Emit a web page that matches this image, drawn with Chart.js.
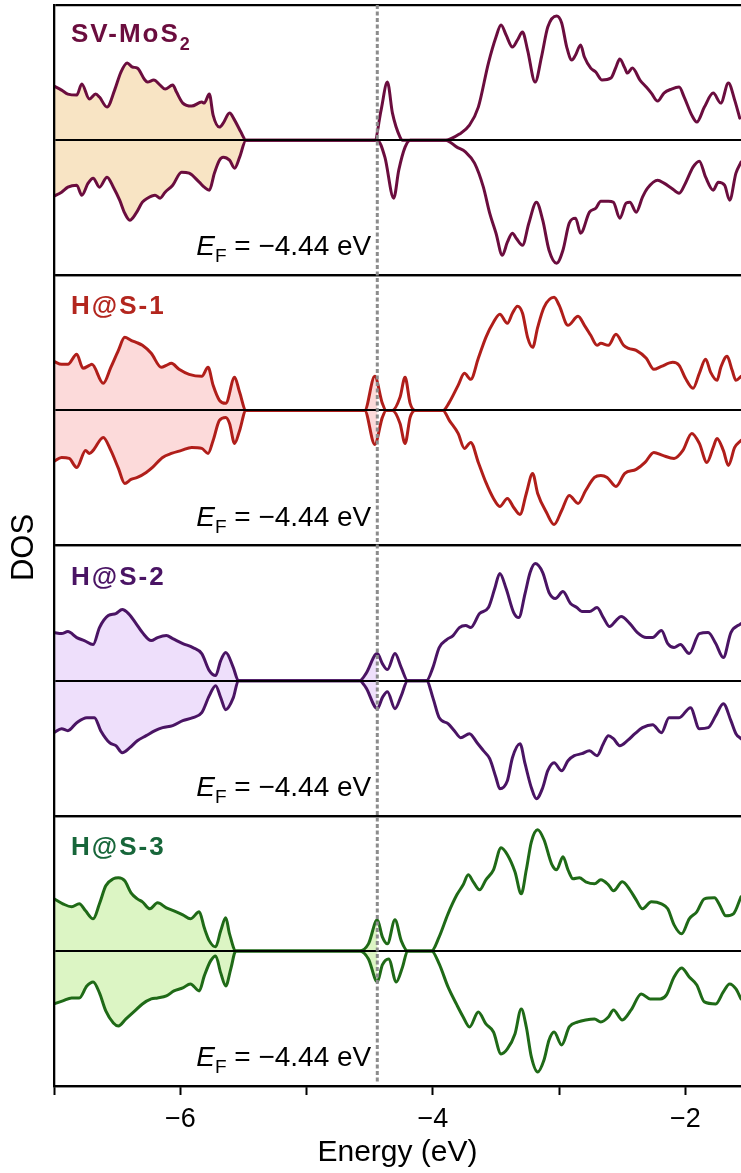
<!DOCTYPE html>
<html>
<head>
<meta charset="utf-8">
<title>DOS</title>
<script src="https://cdn.jsdelivr.net/npm/chart.js@4.4.1/dist/chart.umd.min.js"></script>
<style>
    html, body { margin: 0; padding: 0; background: #fff; overflow: hidden; }
    canvas { display: block; }
</style>
</head>
<body>
<canvas id="dos-chart" width="741" height="1173"></canvas>
<script>

// Fermi level (eV)
const EF = -4.44;

// energy axis
const xMin = -7.0;
const xMax = -1.56;
const xTicks = [-7, -6, -5, -4, -3, -2];

// each panel runs from -dosLim to +dosLim
const dosLim = 13.5;

const panelNames = ['SV-MoS', 'H@S-1', 'H@S-2', 'H@S-3'];
const panelSubs = ['2', '', '', ''];
const lineColors = ['#6b0d3e', '#b01e1a', '#4a1464', '#1f6a17'];
const fillColors = ['#f8e4c4', '#fcdada', '#eedffb', '#dcf5c4'];
const nameColors = ['#6b0d3e', '#b3261e', '#4a1464', '#17663a'];

// SV-MoS2
const svUpE = [
    -7.00,-6.94,-6.89,-6.82,-6.78,-6.72,-6.67,-6.64,-6.58,-6.52,-6.47,-6.42,-6.38,-6.34,-6.28,-6.26,-6.21,-6.16,-6.12,-6.06,-6.03,-5.98,-5.91,-5.83,-5.81,-5.77,-5.74,-5.69,-5.66,-5.61,-5.57,-5.52,-5.48,
    -4.46,-4.41,-4.36,-4.32,-4.26,-4.24,
    -3.90,-3.79,-3.71,-3.64,-3.56,-3.50,-3.46,-3.42,-3.37,-3.33,-3.29,-3.25,-3.19,-3.14,-3.09,-3.02,-2.98,-2.94,-2.90,-2.87,-2.83,-2.80,-2.75,-2.71,-2.66,-2.59,-2.55,-2.52,-2.48,-2.46,-2.42,-2.36,-2.31,-2.27,-2.22,-2.17,-2.11,-2.05,-2.01,-1.95,-1.91,-1.85,-1.78,-1.72,-1.66,-1.61,-1.57
];
const svUp = [
    5.4,5.0,4.6,4.5,5.6,4.1,4.6,4.3,3.3,5.0,6.8,7.7,7.3,7.2,6.0,5.8,6.0,5.5,5.1,5.5,4.8,3.7,3.4,3.8,3.7,4.6,2.5,1.3,1.7,2.7,2.0,0.8,0,
    0,3.0,5.8,2.7,0.3,0,
    0,0.6,1.5,3.3,7.7,10.3,11.5,10.5,9.3,10.0,10.8,9.0,5.8,8.3,11.3,12.4,11.7,9.3,8.0,8.5,9.5,8.3,7.2,6.8,6.0,6.2,7.3,8.1,7.2,6.7,7.2,6.0,5.3,4.7,3.9,4.7,5.1,5.3,4.3,2.5,1.8,3.3,4.7,3.7,5.7,4.0,2.2
];
const svDnE = [
    -7.00,-6.94,-6.89,-6.82,-6.78,-6.73,-6.69,-6.64,-6.58,-6.53,-6.48,-6.44,-6.40,-6.35,-6.30,-6.26,-6.20,-6.16,-6.12,-6.06,-5.99,-5.93,-5.85,-5.81,-5.77,-5.73,-5.69,-5.66,-5.61,-5.57,-5.53,-5.48,
    -4.44,-4.38,-4.31,-4.27,-4.22,-4.18,
    -3.90,-3.81,-3.74,-3.67,-3.60,-3.55,-3.50,-3.45,-3.41,-3.37,-3.34,-3.29,-3.24,-3.18,-3.13,-3.08,-3.02,-2.97,-2.92,-2.87,-2.83,-2.76,-2.71,-2.67,-2.61,-2.57,-2.52,-2.47,-2.44,-2.39,-2.34,-2.30,-2.22,-2.17,-2.11,-2.05,-2.00,-1.94,-1.89,-1.84,-1.78,-1.74,-1.69,-1.65,-1.60,-1.56
];
const svDn = [
    -5.6,-5.2,-4.7,-4.5,-5.5,-4.3,-3.8,-4.7,-3.7,-4.7,-6.0,-7.3,-8.0,-7.3,-6.2,-5.8,-5.5,-5.8,-5.2,-4.5,-3.2,-3.3,-4.2,-4.7,-5.0,-3.3,-2.0,-1.7,-2.0,-2.8,-1.7,0,
    0,-1.7,-5.8,-3.0,-0.7,0,
    0,-0.7,-1.2,-2.3,-4.7,-7.3,-9.3,-11.5,-10.2,-9.3,-9.8,-10.5,-8.3,-6.2,-8.0,-11.0,-12.3,-11.0,-8.3,-7.8,-9.3,-7.2,-6.8,-6.1,-6.1,-6.2,-7.8,-6.3,-6.2,-7.2,-5.7,-4.8,-4.0,-4.3,-4.8,-5.3,-4.3,-2.7,-2.1,-3.7,-5.0,-4.2,-4.5,-6.0,-3.3,-2.2
];

// H@S-1
const h1UpE = [
    -7.00,-6.94,-6.89,-6.82,-6.77,-6.72,-6.70,-6.61,-6.55,-6.49,-6.44,-6.39,-6.35,-6.30,-6.23,-6.15,-6.11,-6.07,-6.01,-5.93,-5.83,-5.78,-5.74,-5.69,-5.64,-5.57,-5.53,-5.48,
    -4.54,-4.46,-4.40,-4.37,-4.32,-4.26,-4.22,-4.18,-4.14,
    -3.92,-3.87,-3.80,-3.75,-3.70,-3.64,-3.58,-3.52,-3.47,-3.41,-3.37,-3.33,-3.29,-3.25,-3.21,-3.17,-3.12,-3.04,-3.00,-2.93,-2.85,-2.80,-2.75,-2.70,-2.67,-2.61,-2.55,-2.49,-2.45,-2.39,-2.31,-2.25,-2.19,-2.10,-2.05,-2.00,-1.94,-1.89,-1.84,-1.80,-1.75,-1.72,-1.67,-1.63,-1.60,-1.56
];
const h1Up = [
    4.9,4.6,4.6,5.6,4.2,4.5,4.6,2.7,4.3,6.0,7.3,7.0,6.8,6.5,5.7,4.3,4.5,4.7,4.1,3.6,3.4,4.3,2.5,1.0,0.7,3.3,1.8,0,
    0,3.4,0.7,0,0,1.3,3.3,0.7,0,
    0,0.8,2.5,3.7,3.1,5.2,7.3,8.8,9.6,8.7,9.7,10.4,9.7,7.3,6.3,8.3,10.3,11.3,10.5,8.5,9.4,8.5,7.5,6.5,6.7,6.5,7.6,6.5,6.2,6.0,5.2,4.1,4.4,4.8,4.5,3.2,2.2,3.7,5.1,3.8,3.0,4.3,5.4,4.0,3.0,3.4
];
const h1DnE = [
    -7.00,-6.94,-6.88,-6.82,-6.75,-6.72,-6.69,-6.61,-6.55,-6.49,-6.44,-6.39,-6.34,-6.27,-6.22,-6.14,-6.07,-5.99,-5.91,-5.83,-5.78,-5.74,-5.69,-5.64,-5.61,-5.57,-5.53,-5.48,
    -4.54,-4.46,-4.40,-4.37,-4.32,-4.26,-4.22,-4.18,-4.14,
    -3.92,-3.87,-3.80,-3.75,-3.70,-3.64,-3.58,-3.52,-3.47,-3.41,-3.36,-3.31,-3.26,-3.21,-3.17,-3.10,-3.04,-2.98,-2.92,-2.85,-2.79,-2.72,-2.67,-2.62,-2.55,-2.48,-2.39,-2.32,-2.25,-2.18,-2.09,-2.02,-1.95,-1.89,-1.83,-1.78,-1.75,-1.70,-1.66,-1.61,-1.56
];
const h1Dn = [
    -5.1,-4.7,-4.8,-5.7,-4.0,-4.3,-4.0,-2.7,-4.0,-5.8,-7.3,-6.9,-6.7,-6.2,-5.7,-4.7,-4.3,-4.0,-3.7,-3.8,-4.3,-3.0,-1.0,-0.7,-1.3,-3.3,-2.0,0,
    0,-3.4,-0.7,0,0,-1.3,-3.3,-0.7,0,
    0,-1.0,-2.3,-3.8,-3.2,-5.2,-7.2,-8.8,-9.6,-8.8,-9.7,-10.4,-8.3,-6.3,-8.3,-10.2,-11.4,-10.0,-8.5,-9.3,-8.0,-6.7,-6.5,-6.7,-7.6,-6.3,-5.9,-5.2,-4.2,-4.5,-4.8,-4.0,-2.3,-3.3,-5.2,-3.7,-2.8,-4.0,-5.5,-3.7,-3.0
];

// H@S-2
const h2UpE = [
    -7.00,-6.94,-6.89,-6.82,-6.76,-6.69,-6.64,-6.57,-6.51,-6.46,-6.41,-6.35,-6.30,-6.23,-6.18,-6.11,-6.06,-5.98,-5.90,-5.83,-5.77,-5.72,-5.68,-5.64,-5.58,-5.54,
    -4.58,-4.53,-4.44,-4.40,-4.36,-4.30,-4.25,-4.20,
    -4.05,-4.00,-3.95,-3.89,-3.84,-3.79,-3.74,-3.70,-3.63,-3.56,-3.51,-3.47,-3.42,-3.36,-3.32,-3.27,-3.23,-3.19,-3.13,-3.08,-3.03,-2.97,-2.91,-2.86,-2.82,-2.76,-2.70,-2.65,-2.60,-2.55,-2.51,-2.44,-2.38,-2.31,-2.26,-2.19,-2.14,-2.09,-2.04,-1.97,-1.89,-1.82,-1.76,-1.70,-1.64,-1.56
];
const h2Up = [
    4.8,4.7,4.9,4.3,4.0,3.6,5.3,6.5,6.7,7.1,6.7,5.7,4.8,4.0,4.3,4.5,4.2,3.7,3.3,2.7,1.0,0.5,2.0,2.8,1.3,0,
    0,0.7,2.7,1.7,1.1,2.7,1.3,0,
    0,1.3,3.3,4.1,4.5,5.3,5.5,5.3,6.7,7.3,9.2,10.7,9.2,6.8,6.3,8.7,10.8,11.7,10.8,8.8,8.2,8.9,7.7,7.3,6.9,6.9,7.3,6.3,5.4,6.0,6.4,5.7,4.8,4.3,4.3,5.0,3.7,3.3,3.6,2.7,4.7,4.8,3.7,2.3,4.8,5.7
];
const h2DnE = [
    -7.00,-6.94,-6.89,-6.82,-6.74,-6.68,-6.63,-6.56,-6.51,-6.46,-6.40,-6.34,-6.27,-6.20,-6.14,-6.06,-5.98,-5.90,-5.83,-5.77,-5.72,-5.68,-5.64,-5.58,-5.54,
    -4.58,-4.53,-4.44,-4.40,-4.36,-4.30,-4.25,-4.20,
    -4.05,-4.00,-3.95,-3.88,-3.83,-3.78,-3.71,-3.65,-3.60,-3.55,-3.50,-3.47,-3.41,-3.37,-3.31,-3.27,-3.22,-3.18,-3.13,-3.09,-3.04,-2.98,-2.93,-2.88,-2.82,-2.76,-2.70,-2.65,-2.61,-2.57,-2.52,-2.46,-2.40,-2.34,-2.26,-2.19,-2.13,-2.05,-1.96,-1.89,-1.82,-1.76,-1.70,-1.64,-1.60,-1.56
];
const h2Dn = [
    -5.2,-4.8,-5.0,-4.2,-3.7,-3.7,-5.0,-6.2,-6.5,-7.2,-6.7,-6.0,-5.5,-5.0,-4.7,-4.5,-4.0,-3.7,-3.2,-1.5,-0.5,-1.7,-2.9,-1.7,0,
    0,-0.7,-2.8,-1.7,-1.1,-2.8,-1.5,0,
    0,-1.7,-3.7,-4.3,-5.0,-5.7,-5.3,-6.2,-7.0,-7.8,-9.7,-10.8,-10.0,-7.7,-6.3,-8.3,-10.7,-11.8,-10.7,-9.0,-8.2,-9.0,-8.0,-7.5,-7.3,-7.0,-7.5,-6.3,-5.5,-5.8,-6.5,-6.0,-5.3,-4.7,-4.4,-5.2,-3.7,-3.7,-2.7,-4.8,-4.7,-3.5,-2.3,-4.0,-5.3,-5.8
];

// H@S-3
const h3UpE = [
    -7.00,-6.93,-6.86,-6.80,-6.75,-6.69,-6.64,-6.59,-6.53,-6.49,-6.44,-6.39,-6.34,-6.30,-6.24,-6.18,-6.11,-6.05,-5.98,-5.92,-5.85,-5.81,-5.77,-5.72,-5.68,-5.64,-5.61,-5.56,
    -4.58,-4.51,-4.44,-4.40,-4.36,-4.30,-4.25,-4.20,
    -4.01,-3.95,-3.88,-3.81,-3.76,-3.72,-3.68,-3.63,-3.58,-3.52,-3.46,-3.41,-3.35,-3.30,-3.26,-3.22,-3.17,-3.12,-3.06,-3.02,-2.97,-2.93,-2.89,-2.84,-2.79,-2.72,-2.67,-2.61,-2.57,-2.50,-2.44,-2.39,-2.34,-2.27,-2.19,-2.14,-2.09,-2.03,-1.97,-1.91,-1.85,-1.77,-1.73,-1.68,-1.62,-1.56
];
const h3Up = [
    5.2,4.7,4.4,4.7,4.0,3.2,4.7,6.5,7.2,7.3,7.0,5.8,5.2,4.9,4.2,4.8,4.3,4.0,3.6,3.2,3.9,2.3,1.0,0.4,2.0,3.3,1.7,0,
    0,0.7,3.1,1.4,0.7,3.1,1.0,0,
    0,1.4,3.7,5.6,6.6,7.6,6.9,6.1,7.1,8.1,10.3,9.6,7.9,5.7,8.1,10.9,12.1,11.1,8.7,8.1,9.4,8.1,7.2,7.3,6.9,6.7,7.1,6.6,6.0,6.9,6.1,5.1,4.2,4.9,4.7,4.2,2.6,1.7,3.2,3.9,5.2,5.3,4.6,3.5,3.7,5.4
];
const h3DnE = [
    -7.00,-6.93,-6.86,-6.80,-6.74,-6.69,-6.64,-6.59,-6.53,-6.49,-6.43,-6.36,-6.30,-6.23,-6.18,-6.11,-6.05,-5.98,-5.92,-5.85,-5.81,-5.76,-5.72,-5.68,-5.64,-5.60,-5.56,
    -4.58,-4.51,-4.44,-4.40,-4.35,-4.29,-4.24,-4.20,
    -4.01,-3.95,-3.88,-3.81,-3.76,-3.71,-3.64,-3.58,-3.52,-3.46,-3.41,-3.35,-3.30,-3.26,-3.22,-3.17,-3.12,-3.08,-3.04,-2.98,-2.92,-2.85,-2.79,-2.72,-2.67,-2.61,-2.57,-2.50,-2.43,-2.35,-2.28,-2.20,-2.15,-2.09,-2.03,-1.97,-1.91,-1.85,-1.76,-1.70,-1.65,-1.60,-1.56
];
const h3Dn = [
    -5.3,-5.0,-4.7,-4.7,-3.5,-3.1,-4.2,-6.0,-7.2,-7.5,-6.8,-6.0,-5.3,-4.8,-4.7,-4.5,-4.0,-3.7,-3.3,-4.0,-2.5,-1.0,-0.5,-2.2,-3.5,-1.8,0,
    0,-0.8,-3.1,-1.4,-0.8,-3.1,-1.6,0,
    0,-1.3,-3.6,-5.4,-6.6,-7.6,-6.1,-7.3,-8.1,-10.3,-9.8,-8.3,-5.8,-7.6,-10.6,-12.1,-10.9,-8.9,-8.1,-9.4,-7.6,-7.1,-6.9,-6.8,-7.1,-6.6,-5.9,-6.9,-5.9,-4.3,-4.8,-4.8,-4.4,-2.6,-1.7,-2.6,-3.4,-5.1,-5.3,-4.1,-3.3,-3.8,-4.8
];


window.addEventListener("load", function () {
    drawDos();
});


function buildPoints(es, ds) {
    let pts = [];
    for (let i = 0; i < es.length && i < ds.length; i++) {
        pts.push({ x: es[i], y: ds[i] });
    }
    return pts;
}


function drawDos() {

    const FONT = '"Liberation Sans", Arial, Helvetica, sans-serif';
    Chart.defaults.font.family = FONT;
    Chart.defaults.color = '#000';

    const upE = [svUpE, h1UpE, h2UpE, h3UpE];
    const upV = [svUp, h1Up, h2Up, h3Up];
    const dnE = [svDnE, h1DnE, h2DnE, h3DnE];
    const dnV = [svDn, h1Dn, h2Dn, h3Dn];

    // 패널마다: 채움 2개 (EF 아래만 보이게 잘라냄) + 선 2개
    let datasets = [];
    for (let p = 0; p < 4; p++) {
        const axis = 'y' + (p + 1);
        const up = buildPoints(upE[p], upV[p]);
        const dn = buildPoints(dnE[p], dnV[p]);

        [up, dn].forEach(function (pts) {
            datasets.push({
                data: pts,
                yAxisID: axis,
                isFill: true,
                order: 1,
                fill: 'origin',
                backgroundColor: fillColors[p],
                borderColor: 'rgba(0,0,0,0)',
                borderWidth: 0,
                pointRadius: 0,
                cubicInterpolationMode: 'monotone'
            });
        });
        [up, dn].forEach(function (pts) {
            datasets.push({
                data: pts,
                yAxisID: axis,
                order: 0,
                fill: false,
                borderColor: lineColors[p],
                borderWidth: 3,
                borderJoinStyle: 'round',
                borderCapStyle: 'round',
                pointRadius: 0,
                cubicInterpolationMode: 'monotone'
            });
        });
    }

    // stacked y axes, last one defined ends up on top
    let scales = {
        x: {
            type: 'linear',
            min: xMin,
            max: xMax,
            afterBuildTicks: function (s) {
                s.ticks = xTicks.map(function (v) { return { value: v }; });
            },
            afterFit: function (s) { s.height = 87; },
            ticks: {
                autoSkip: false,
                maxRotation: 0,
                padding: 8,
                font: { size: 27 },
                color: '#000',
                callback: function (v) {
                    return (v % 2 === 0) ? '\u2212' + Math.abs(v) : '';
                }
            },
            grid: {
                drawOnChartArea: false,
                drawTicks: true,
                tickLength: 9,
                tickWidth: 2,
                tickColor: '#000'
            },
            border: { display: true, color: '#000', width: 2.2, z: 1 },
            title: {
                display: true,
                text: 'Energy (eV)',
                color: '#000',
                font: { size: 30, lineHeight: 1.2 },
                padding: { top: 0, bottom: 2 }
            }
        }
    };
    for (let p = 3; p >= 0; p--) {
        scales['y' + (p + 1)] = {
            type: 'linear',
            position: 'left',
            stack: 'dos',
            stackWeight: 1,
            min: -dosLim,
            max: dosLim,
            afterBuildTicks: function (s) {
                s.ticks = [{ value: -dosLim }, { value: 0 }, { value: dosLim }];
            },
            afterFit: function (s) { s.width = 54; },
            ticks: { display: false },
            grid: {
                z: 1,
                drawTicks: false,
                color: '#000',
                lineWidth: function (ctx) {
                    return (ctx.tick && ctx.tick.value === 0) ? 2 : 2.3;
                }
            },
            border: { display: true, color: '#000', width: 2.3, z: 1 }
        };
    }

    let fermiClip = false;

    const dosDecor = {
        id: 'dosDecor',
        beforeDatasetsDraw: function (chart) {
            // fills are drawn first (order 1), cut them at EF
            const a = chart.chartArea;
            const xf = chart.scales.x.getPixelForValue(EF);
            chart.ctx.save();
            chart.ctx.beginPath();
            chart.ctx.rect(a.left, a.top, xf - a.left, a.bottom - a.top);
            chart.ctx.clip();
            fermiClip = true;
        },
        beforeDatasetDraw: function (chart, args) {
            if (fermiClip && !chart.data.datasets[args.index].isFill) {
                chart.ctx.restore();
                fermiClip = false;
            }
        },
        afterDatasetsDraw: function (chart) {
            if (fermiClip) {
                chart.ctx.restore();
                fermiClip = false;
            }
        },
        afterDraw: function (chart) {
            const ctx = chart.ctx;
            const a = chart.chartArea;
            const xf = chart.scales.x.getPixelForValue(EF);

            // Fermi level
            ctx.save();
            ctx.strokeStyle = '#8c8c8c';
            ctx.lineWidth = 3;
            ctx.setLineDash([4, 2.5]);
            ctx.beginPath();
            ctx.moveTo(xf, a.top);
            ctx.lineTo(xf, a.bottom - 3);
            ctx.stroke();
            ctx.restore();

            for (let p = 0; p < 4; p++) {
                const sc = chart.scales['y' + (p + 1)];

                // panel name
                ctx.save();
                ctx.fillStyle = nameColors[p];
                ctx.textBaseline = 'alphabetic';
                ctx.textAlign = 'left';
                ctx.font = 'bold 26px ' + FONT;
                if ('letterSpacing' in ctx) ctx.letterSpacing = '2px';
                const ny = sc.top + (p === 0 ? 37 : 39);
                ctx.fillText(panelNames[p], 71, ny);
                if (panelSubs[p]) {
                    const w = ctx.measureText(panelNames[p]).width;
                    ctx.font = 'bold 18px ' + FONT;
                    ctx.fillText(panelSubs[p], 71 + w, ny + 8);
                }
                ctx.restore();

                // E_F = ... eV
                ctx.save();
                ctx.fillStyle = '#000';
                ctx.textBaseline = 'alphabetic';
                ctx.textAlign = 'left';
                const base = sc.bottom - 20;
                const rest = ' = \u2212' + Math.abs(EF).toFixed(2) + ' eV';
                ctx.font = 'italic 28px ' + FONT;
                const wE = ctx.measureText('E').width;
                ctx.font = '19px ' + FONT;
                const wF = ctx.measureText('F').width;
                ctx.font = '28px ' + FONT;
                const wR = ctx.measureText(rest).width;
                let x = xf - 6 - (wE + wF + wR);
                ctx.font = 'italic 28px ' + FONT;
                ctx.fillText('E', x, base);
                x += wE;
                ctx.font = '19px ' + FONT;
                ctx.fillText('F', x, base + 7);
                x += wF;
                ctx.font = '28px ' + FONT;
                ctx.fillText(rest, x, base);
                ctx.restore();
            }

            // y title
            ctx.save();
            ctx.translate(24, (a.top + a.bottom) / 2 + 2);
            ctx.rotate(-Math.PI / 2);
            ctx.font = '31px ' + FONT;
            ctx.fillStyle = '#000';
            ctx.textAlign = 'center';
            ctx.textBaseline = 'middle';
            ctx.fillText('DOS', 0, 0);
            ctx.restore();
        }
    };

    new Chart(document.getElementById('dos-chart'), {
        type: 'line',
        data: { datasets: datasets },
        options: {
            responsive: false,
            animation: false,
            devicePixelRatio: 1,
            layout: { padding: { top: 5, left: 0, right: 0, bottom: 0 } },
            plugins: {
                legend: { display: false },
                tooltip: { enabled: false }
            },
            scales: scales
        },
        plugins: [dosDecor]
    });
}
</script>
</body>
</html>
